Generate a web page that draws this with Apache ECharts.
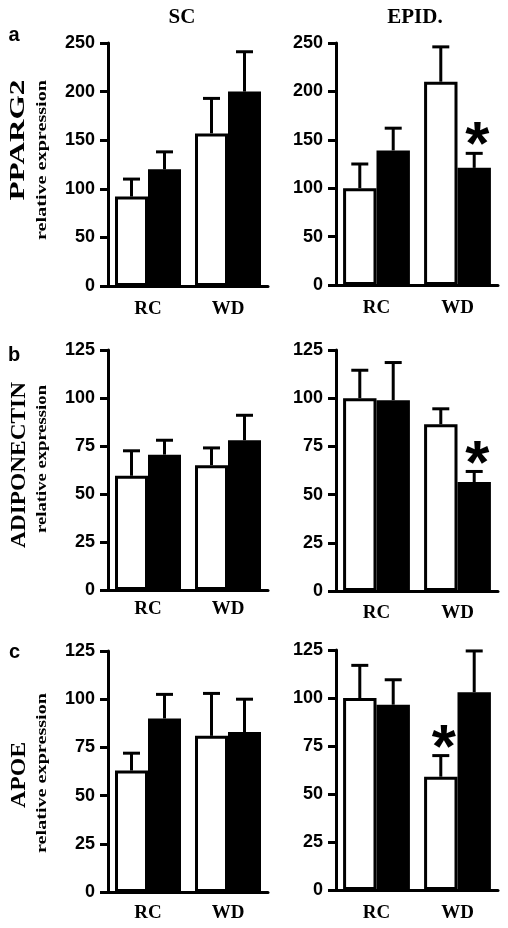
<!DOCTYPE html>
<html><head><meta charset="utf-8">
<script src="https://cdn.jsdelivr.net/npm/echarts@6/dist/echarts.min.js"></script>
<style>html,body{margin:0;padding:0;background:#fff}#c{width:508px;height:928px}</style>
</head><body><div id="c"></div>
<script>
// ---------- data ----------
const categories = ['RC', 'WD'];
const columnTitles = ['SC', 'EPID.'];
const panelLetters = ['a', 'b', 'c'];
const geneNames = ['PPARG2', 'ADIPONECTIN', 'APOE'];
const subTitle = 'relative expression';
const yMax = [250, 125, 125];
const yStep = [50, 25, 25];

// PPARG2 (a)
const pparg2_sc_white = [92, 157];
const pparg2_sc_white_err = [18, 36];
const pparg2_sc_black = [120, 200];
const pparg2_sc_black_err = [18, 41];
const pparg2_ep_white = [100, 210];
const pparg2_ep_white_err = [25, 36];
const pparg2_ep_black = [139, 121];
const pparg2_ep_black_err = [23, 15];
const pparg2_ep_black_sig = [0, 1];

// ADIPONECTIN (b)
const adipo_sc_white = [59.5, 65];
const adipo_sc_white_err = [13, 9];
const adipo_sc_black = [70.5, 78];
const adipo_sc_black_err = [7.5, 13];
const adipo_ep_white = [100, 86.5];
const adipo_ep_white_err = [14.5, 8];
const adipo_ep_black = [99, 56.5];
const adipo_ep_black_err = [19.5, 5.5];
const adipo_ep_black_sig = [0, 1];

// APOE (c)
const apoe_sc_white = [63, 81];
const apoe_sc_white_err = [9, 22];
const apoe_sc_black = [90, 83];
const apoe_sc_black_err = [12.5, 17];
const apoe_ep_white = [100, 59];
const apoe_ep_white_err = [17, 11];
const apoe_ep_white_sig = [0, 1];
const apoe_ep_black = [96.5, 103];
const apoe_ep_black_err = [13, 21.5];

const none = [0, 0];
const panels = [
  [{w: pparg2_sc_white, we: pparg2_sc_white_err, ws: none, b: pparg2_sc_black, be: pparg2_sc_black_err, bs: none},
   {w: pparg2_ep_white, we: pparg2_ep_white_err, ws: none, b: pparg2_ep_black, be: pparg2_ep_black_err, bs: pparg2_ep_black_sig}],
  [{w: adipo_sc_white, we: adipo_sc_white_err, ws: none, b: adipo_sc_black, be: adipo_sc_black_err, bs: none},
   {w: adipo_ep_white, we: adipo_ep_white_err, ws: none, b: adipo_ep_black, be: adipo_ep_black_err, bs: adipo_ep_black_sig}],
  [{w: apoe_sc_white, we: apoe_sc_white_err, ws: none, b: apoe_sc_black, be: apoe_sc_black_err, bs: none},
   {w: apoe_ep_white, we: apoe_ep_white_err, ws: apoe_ep_white_sig, b: apoe_ep_black, be: apoe_ep_black_err, bs: none}]
];

// ---------- layout / style ----------
const gridBoxes = [
  {left: 108, top: 43, width: 160, height: 243},
  {left: 336, top: 43, width: 162, height: 242},
  {left: 108, top: 350, width: 160, height: 240},
  {left: 336, top: 350, width: 162, height: 241},
  {left: 108, top: 651, width: 160, height: 241},
  {left: 336, top: 650, width: 162, height: 240}
];
const xLabelMargin = [14, 14, 10, 13, 12, 14];
const CAT_GAP = 0.175;
const SANS = 'Liberation Sans';
const SERIF = 'Liberation Serif';

const grids = [], xAxes = [], yAxes = [], series = [];
gridBoxes.forEach((g, k) => {
  const row = Math.floor(k / 2);
  grids.push(Object.assign({containLabel: false, outerBoundsMode: 'none'}, g));
  xAxes.push({
    type: 'category', gridIndex: k, data: categories,
    axisLine: {show: true, lineStyle: {color: '#000', width: 3}},
    axisTick: {show: false},
    axisLabel: {color: '#000', fontFamily: SERIF, fontWeight: 'bold', fontSize: 19, margin: xLabelMargin[k]},
    splitLine: {show: false}
  });
  yAxes.push({
    type: 'value', gridIndex: k, min: 0, max: yMax[row], interval: yStep[row],
    axisLine: {show: true, lineStyle: {color: '#000', width: 3}},
    axisTick: {show: true, length: 8, lineStyle: {color: '#000', width: 3}},
    axisLabel: {color: '#000', fontFamily: SANS, fontWeight: 'bold', fontSize: 18, margin: 13},
    splitLine: {show: false}
  });
});

function errSeries(k, side, vals, errs, sig) {
  return {
    type: 'custom', xAxisIndex: k, yAxisIndex: k, z: 5,
    data: vals.map((v, i) => [i, v, v + errs[i], sig[i]]),
    renderItem(params, api) {
      const i = api.value(0);
      const base = api.coord([i, api.value(1)]);
      const top = api.coord([i, api.value(2)]);
      const band = api.size([1, 0])[0];
      const bw = band * (1 - CAT_GAP) / 2;
      const cx = base[0] + (side === 0 ? -bw / 2 : bw / 2);
      const ls = {stroke: '#000', lineWidth: 3};
      const children = [
        {type: 'line', shape: {x1: cx, y1: base[1], x2: cx, y2: top[1]}, style: ls},
        {type: 'line', shape: {x1: cx - 8.5, y1: top[1], x2: cx + 8.5, y2: top[1]}, style: ls}
      ];
      if (api.value(3)) {
        children.push({type: 'text', x: cx + 3, y: top[1] - 6,
          style: {text: '*', fill: '#000', font: 'bold 62px ' + SANS, align: 'center', verticalAlign: 'middle'}});
      }
      return {type: 'group', children};
    }
  };
}

panels.forEach((rowP, r) => rowP.forEach((p, c) => {
  const k = r * 2 + c;
  series.push({type: 'bar', xAxisIndex: k, yAxisIndex: k, data: p.w, barGap: '0%', barCategoryGap: (CAT_GAP * 100) + '%',
    itemStyle: {color: '#fff', borderColor: '#000', borderWidth: 3}, silent: true});
  series.push({type: 'bar', xAxisIndex: k, yAxisIndex: k, data: p.b, barGap: '0%', barCategoryGap: (CAT_GAP * 100) + '%',
    itemStyle: {color: '#000', borderColor: '#000', borderWidth: 3}, silent: true});
  series.push(errSeries(k, 0, p.w, p.we, p.ws));
  series.push(errSeries(k, 1, p.b, p.be, p.bs));
}));

// text measurement for stretched rotated labels
const mctx = document.createElement('canvas').getContext('2d');
function measure(text, font) { mctx.font = font; return mctx.measureText(text).width; }

const geneLayout = [
  {x: 19, y: 140, len: 121}, {x: 20, y: 465, len: 166}, {x: 20, y: 775, len: 66}
];
const subLayout = [
  {x: 42.5, y: 160, len: 160}, {x: 42.5, y: 459, len: 148}, {x: 42.5, y: 773, len: 160}
];
const letterPos = [[14, 35], [14, 355], [14.5, 652]];
const titlePos = [[182, 18], [415, 18]];

const graphics = [];
geneNames.forEach((name, r) => {
  const gf = 'bold 21px ' + SERIF;
  const gl = geneLayout[r];
  graphics.push({type: 'text', x: gl.x, y: gl.y, rotation: Math.PI / 2, scaleX: gl.len / measure(name, gf),
    style: {text: name, font: gf, fill: '#000', align: 'center', verticalAlign: 'middle'}});
  const sf = 'bold 14.5px ' + SERIF;
  const sl = subLayout[r];
  graphics.push({type: 'text', x: sl.x, y: sl.y, rotation: Math.PI / 2, scaleX: sl.len / measure(subTitle, sf),
    style: {text: subTitle, font: sf, fill: '#000', align: 'center', verticalAlign: 'middle'}});
  graphics.push({type: 'text', x: letterPos[r][0], y: letterPos[r][1],
    style: {text: panelLetters[r], font: 'bold 20px ' + SANS, fill: '#000', align: 'center', verticalAlign: 'middle'}});
});
columnTitles.forEach((t, c) => {
  graphics.push({type: 'text', x: titlePos[c][0], y: titlePos[c][1],
    style: {text: t, font: 'bold 21px ' + SERIF, fill: '#000', align: 'center', verticalAlign: 'middle'}});
});

const chart = echarts.init(document.getElementById('c'), null, {renderer: 'canvas'});
chart.setOption({
  animation: false,
  backgroundColor: '#fff',
  grid: grids, xAxis: xAxes, yAxis: yAxes, series,
  graphic: graphics
});
</script></body></html>
